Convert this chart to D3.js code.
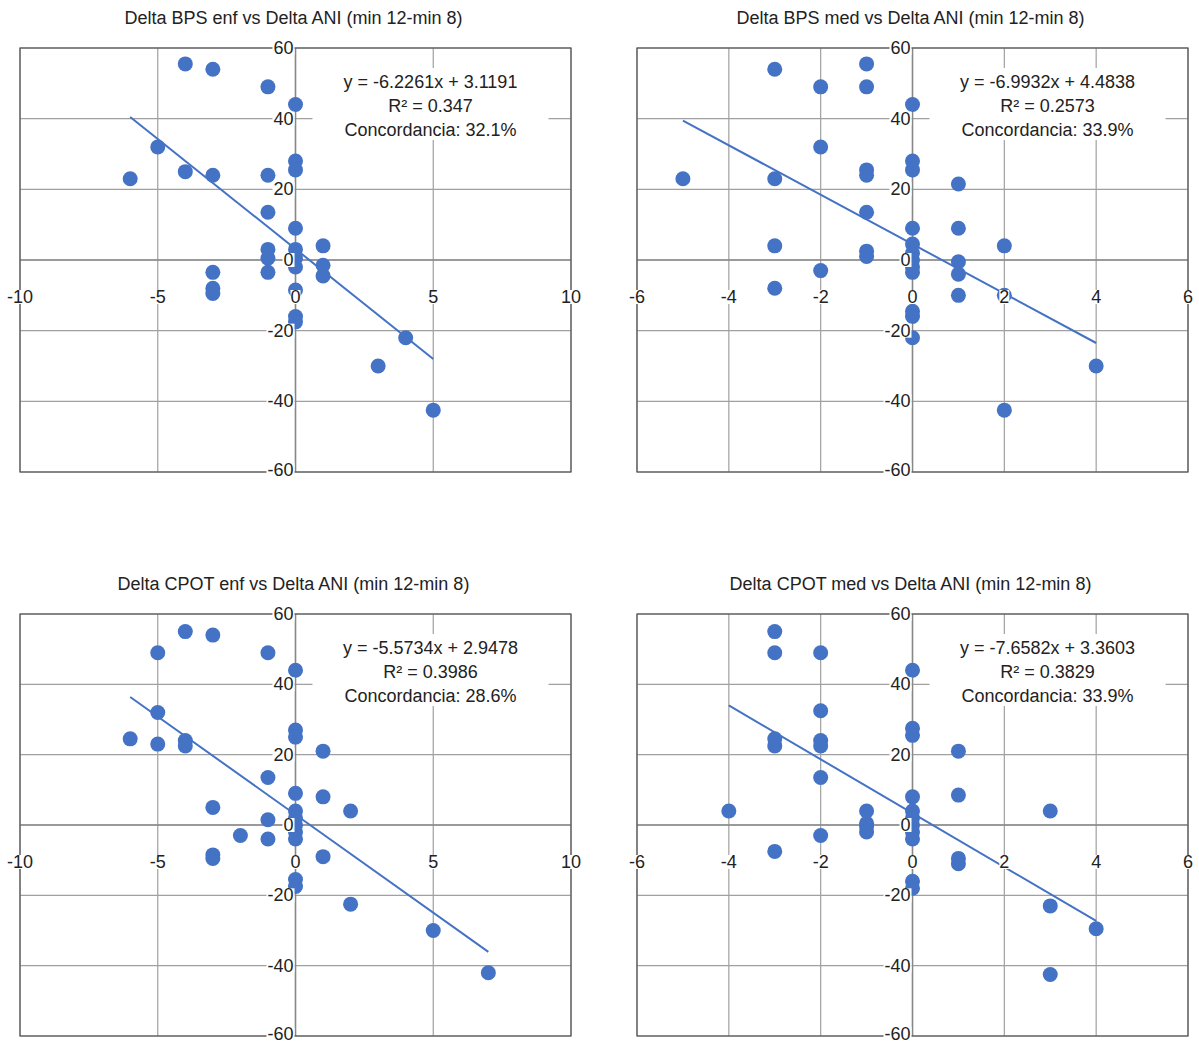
<!DOCTYPE html>
<html><head><meta charset="utf-8">
<script src="https://cdn.jsdelivr.net/npm/d3@7"></script>
<style>body{margin:0;background:#fff}svg{display:block}text{font-family:"Liberation Sans",Arial,sans-serif}</style>
</head><body>
<script>
const titles = ["Delta BPS enf vs Delta ANI (min 12-min 8)","Delta BPS med vs Delta ANI (min 12-min 8)","Delta CPOT enf vs Delta ANI (min 12-min 8)","Delta CPOT med vs Delta ANI (min 12-min 8)"];
const yTicks = [-60,-40,-20,0,20,40,60];
const xTicksA = [-10,-5,0,5,10];
const xTicksB = [-6,-4,-2,0,2,4,6];
const slopes = [-6.2261,-6.9932,-5.5734,-7.6582];
const intercepts = [3.1191,4.4838,2.9478,3.3603];
const r2 = ["0.347","0.2573","0.3986","0.3829"];
const concord = ["32.1%","33.9%","28.6%","33.9%"];
const lineRange = [[-6,5],[-5,4],[-6,7],[-4,4]];
const bpsEnfX = [-4,-3,-1,0,-5,-6,-4,-3,-1,-1,0,0,0,0,-1,-1,1,0,0,1,1,-3,-1,-3,-3,0,0,0,4,3,5];
const bpsEnfY = [55.5,54,49,44,32,23,25,24,24,13.5,28,25.5,9,3,3,0.5,4,0.5,-2,-1.5,-4.5,-3.5,-3.5,-8,-9.5,-8.5,-16,-17.5,-22,-30,-42.5];
const bpsMedX = [-3,-1,-2,-1,0,-2,-5,-3,-1,-1,-1,0,0,1,0,1,-3,2,-1,-1,0,0,0,0,0,1,1,-2,-3,1,2,0,0,0,4,2];
const bpsMedY = [54,55.5,49,49,44,32,23,23,25.5,24,13.5,28,25.5,21.5,9,9,4,4,2.5,1,4.5,2,0,-2,-3.5,-0.5,-4,-3,-8,-10,-10,-14.5,-16,-22,-30,-42.5];
const cpotEnfX = [-4,-3,-5,-1,0,-5,-6,-5,-4,-4,0,0,1,-1,0,1,2,-3,-1,0,0,0,0,0,-2,-1,-3,-3,1,0,0,2,5,7];
const cpotEnfY = [55,54,49,49,44,32,24.5,23,24,22.5,27,25,21,13.5,9,8,4,5,1.5,4,2,0,-2,-4,-3,-4,-8.5,-9.5,-9,-15.5,-17.5,-22.5,-30,-42];
const cpotMedX = [-3,-3,-2,0,-2,-3,-3,-2,-2,-2,0,0,1,0,1,-4,3,-1,-1,-1,-1,0,0,0,0,0,-2,-3,1,1,0,0,3,4,3];
const cpotMedY = [55,49,49,44,32.5,24.5,22.5,24,22.5,13.5,27.5,25.5,21,8,8.5,4,4,4,0.5,-0.5,-2,4,2,0,-2,-4,-3,-7.5,-9.5,-11,-16,-18,-23,-29.5,-42.5];

const panels = [
 {xs:bpsEnfX, ys:bpsEnfY, xd:[-10,10], xt:xTicksA, x0:20, y0:48, h:424},
 {xs:bpsMedX, ys:bpsMedY, xd:[-6,6], xt:xTicksB, x0:637, y0:48, h:424},
 {xs:cpotEnfX, ys:cpotEnfY, xd:[-10,10], xt:xTicksA, x0:20, y0:614, h:422},
 {xs:cpotMedX, ys:cpotMedY, xd:[-6,6], xt:xTicksB, x0:637, y0:614, h:422}
];
const W=551, blue="#4472C4";
const svg = d3.select("body").append("svg").attr("width",1199).attr("height",1045);
panels.forEach((p,i)=>{
  const H=p.h;
  const g = svg.append("g").attr("transform",`translate(${p.x0},${p.y0})`);
  const x = d3.scaleLinear().domain(p.xd).range([0,W]);
  const y = d3.scaleLinear().domain([-60,60]).range([H,0]);
  svg.append("text").attr("x",p.x0+W/2-2).attr("y",p.y0-24).attr("text-anchor","middle").attr("font-size",18).attr("fill","#222").text(titles[i]);
  p.xt.forEach(t=>g.append("line").attr("x1",x(t)).attr("x2",x(t)).attr("y1",0).attr("y2",H).attr("stroke","#a0a0a0").attr("stroke-width",1.2));
  yTicks.forEach(t=>g.append("line").attr("x1",0).attr("x2",W).attr("y1",y(t)).attr("y2",y(t)).attr("stroke","#a0a0a0").attr("stroke-width",1.2));
  g.append("line").attr("x1",x(0)).attr("x2",x(0)).attr("y1",0).attr("y2",H).attr("stroke","#888").attr("stroke-width",1.5);
  g.append("line").attr("x1",0).attr("x2",W).attr("y1",y(0)).attr("y2",y(0)).attr("stroke","#888").attr("stroke-width",1.5);
  g.append("rect").attr("width",W).attr("height",H).attr("fill","none").attr("stroke","#555").attr("stroke-width",1.2);
  const tx = W*0.745;
  g.append("rect").attr("x",tx-118).attr("y",20).attr("width",236).attr("height",72).attr("fill","#fff");
  [`y = ${slopes[i]}x + ${intercepts[i]}`,`R² = ${r2[i]}`,`Concordancia: ${concord[i]}`].forEach((s,k)=>
    g.append("text").attr("x",tx).attr("y",40+k*24).attr("text-anchor","middle").attr("font-size",18).attr("fill","#222").text(s));
  const [a,b]=lineRange[i];
  g.append("line").attr("x1",x(a)).attr("y1",y(slopes[i]*a+intercepts[i])).attr("x2",x(b)).attr("y2",y(slopes[i]*b+intercepts[i])).attr("stroke",blue).attr("stroke-width",2);
  p.xs.forEach((v,k)=>g.append("circle").attr("cx",x(v)).attr("cy",y(p.ys[k])).attr("r",7.5).attr("fill",blue));
  yTicks.forEach(t=>{
    const lab=g.append("text").attr("x",x(0)-2).attr("y",y(t)+(t===-60?4:6)).attr("text-anchor","end").attr("font-size",18).attr("fill","#222").text(t);
    const bb=lab.node().getBBox();
    g.append("rect").attr("x",bb.x-1).attr("y",bb.y+3).attr("width",bb.width+2).attr("height",bb.height-6).attr("fill","#fff");
    lab.raise();
  });
  p.xt.forEach(t=>{
    const lab=g.append("text").attr("x",x(t)).attr("y",y(0)+43).attr("text-anchor","middle").attr("font-size",18).attr("fill","#222").text(t);
    const bb=lab.node().getBBox();
    g.append("rect").attr("x",bb.x).attr("y",bb.y+3).attr("width",bb.width).attr("height",bb.height-6).attr("fill","#fff");
    lab.raise();
  });
});
</script>
</body></html>
